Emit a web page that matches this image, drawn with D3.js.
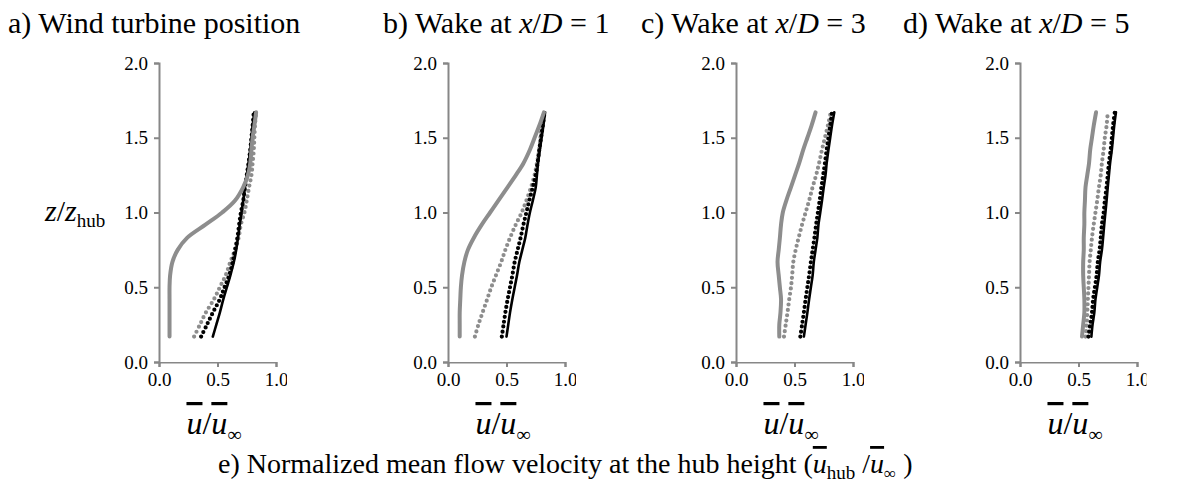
<!DOCTYPE html>
<html><head><meta charset="utf-8">
<script src="https://cdn.jsdelivr.net/npm/d3@7"></script>
<style>
html,body{margin:0;padding:0;background:#fff;}
svg text{font-family:"Liberation Serif","Times New Roman",serif;fill:#000;}
.ov{text-decoration:overline;text-decoration-thickness:1.5px;}
</style></head>
<body><svg id="c" width="1196" height="490"></svg>
<script>
// ---- data ----
const zLevels = [0.17,0.25,0.33,0.42,0.5,0.58,0.67,0.75,0.83,0.92,1.0,1.08,1.17,1.25,1.33,1.42,1.5,1.58,1.67];
const xTicks = [0, 0.5, 1.0];
const yTicks = [0, 0.5, 1.0, 1.5, 2.0];
const panelTitles = ["a) Wind turbine position", "b) Wake at |x|/|D| = 1", "c) Wake at |x|/|D| = 3", "d) Wake at |x|/|D| = 5"];
// gray solid
const grayA  = [0.09,0.09,0.09,0.09,0.09,0.095,0.115,0.16,0.24,0.40,0.54,0.65,0.72,0.76,0.78,0.79,0.80,0.815,0.83];
const grayB  = [0.10,0.10,0.10,0.105,0.11,0.12,0.14,0.17,0.22,0.29,0.36,0.43,0.51,0.58,0.645,0.70,0.74,0.78,0.82];
const grayC  = [0.37,0.37,0.38,0.385,0.375,0.365,0.355,0.365,0.375,0.385,0.40,0.43,0.47,0.505,0.54,0.575,0.61,0.645,0.68];
const grayD  = [0.53,0.54,0.55,0.55,0.545,0.54,0.54,0.545,0.545,0.55,0.55,0.555,0.56,0.575,0.59,0.60,0.615,0.63,0.65];
// gray dotted
const gdotA = [0.30,0.35,0.40,0.47,0.52,0.57,0.61,0.65,0.68,0.70,0.73,0.75,0.77,0.79,0.80,0.81,0.815,0.82,0.83];
const gdotB = [0.23,0.26,0.295,0.335,0.37,0.41,0.455,0.49,0.53,0.58,0.63,0.67,0.71,0.74,0.76,0.78,0.79,0.80,0.82];
const gdotC = [0.41,0.425,0.44,0.455,0.47,0.48,0.49,0.51,0.535,0.565,0.595,0.625,0.655,0.685,0.71,0.735,0.76,0.785,0.81];
const gdotD = [0.56,0.57,0.575,0.58,0.585,0.59,0.595,0.605,0.615,0.63,0.645,0.66,0.675,0.69,0.70,0.715,0.725,0.74,0.75];
// black dotted
const bdotA = [0.36,0.41,0.46,0.52,0.56,0.60,0.63,0.65,0.67,0.685,0.70,0.72,0.735,0.75,0.765,0.78,0.79,0.80,0.81];
const bdotB = [0.46,0.475,0.49,0.51,0.53,0.55,0.57,0.595,0.62,0.645,0.67,0.695,0.725,0.75,0.765,0.78,0.795,0.81,0.825];
const bdotC = [0.55,0.565,0.58,0.595,0.61,0.625,0.64,0.655,0.67,0.685,0.70,0.715,0.73,0.745,0.76,0.775,0.79,0.805,0.82];
const bdotD = [0.585,0.60,0.615,0.625,0.64,0.655,0.665,0.68,0.69,0.70,0.715,0.725,0.74,0.75,0.76,0.775,0.785,0.795,0.81];
// black solid
const blackA = [0.46,0.49,0.52,0.55,0.58,0.61,0.64,0.66,0.675,0.69,0.705,0.72,0.735,0.75,0.765,0.78,0.79,0.80,0.815];
const blackB = [0.50,0.515,0.53,0.55,0.57,0.59,0.61,0.635,0.66,0.68,0.70,0.725,0.75,0.76,0.77,0.785,0.80,0.815,0.83];
const blackC = [0.58,0.595,0.61,0.625,0.64,0.655,0.665,0.68,0.695,0.705,0.72,0.735,0.75,0.765,0.775,0.79,0.805,0.82,0.84];
const blackD = [0.61,0.62,0.635,0.645,0.66,0.675,0.685,0.70,0.71,0.72,0.73,0.74,0.75,0.76,0.77,0.785,0.795,0.805,0.82];

const panels = [
  {title: panelTitles[0], gray: grayA, gdot: gdotA, bdot: bdotA, black: blackA},
  {title: panelTitles[1], gray: grayB, gdot: gdotB, bdot: bdotB, black: blackB},
  {title: panelTitles[2], gray: grayC, gdot: gdotC, bdot: bdotC, black: blackC},
  {title: panelTitles[3], gray: grayD, gdot: gdotD, bdot: bdotD, black: blackD}
];

// ---- layout ----
const svg = d3.select("#c");
const originsX = [159, 448, 736, 1020];
const titleX = [8, 383, 641, 903];
const clipRight = [11, 11, 11, 9.5];
const plotW = 117;
const y = d3.scaleLinear().domain([0, 2]).range([362, 63]);
const axisColor = "#878787";
const gray = "#8d8d8d";
const fmt = d3.format(".1f");
const serif = '"Liberation Serif","Times New Roman",serif';
const defs = svg.append("defs");

function richText(sel, str) {
  str.split("|").forEach((s, i) => {
    if (!s) return;
    const t = sel.append("tspan").text(s);
    if (i % 2 === 1) t.attr("font-style", "italic");
  });
}
function uOverU(sel, size) {
  sel.append("tspan").attr("font-style","italic").attr("class","ov").text("u");
  sel.append("tspan").text("/");
  sel.append("tspan").attr("font-style","italic").attr("class","ov").text("u");
  sel.append("tspan").attr("font-size", size*0.62).attr("dy", size*0.22).text("∞");
}

panels.forEach((p, i) => {
  const x = d3.scaleLinear().domain([0, 1]).range([originsX[i], originsX[i] + plotW]);

  const tt = svg.append("text").attr("x", titleX[i]).attr("y", 33).attr("font-size", 30).attr("font-family", serif);
  richText(tt, p.title);

  defs.append("clipPath").attr("id", "clx" + i).append("rect")
    .attr("x", originsX[i] - 40).attr("y", 0).attr("width", plotW + 40 + clipRight[i]).attr("height", 490);

  const gx = svg.append("g").attr("transform", `translate(0,${y(0)})`).attr("clip-path", `url(#clx${i})`)
    .call(d3.axisBottom(x).tickValues(xTicks).tickFormat(fmt).tickSizeOuter(0).tickSize(5).tickPadding(6));
  const gy = svg.append("g").attr("transform", `translate(${originsX[i]},0)`)
    .call(d3.axisLeft(y).tickValues(yTicks).tickFormat(fmt).tickSizeOuter(0).tickSize(5).tickPadding(6));
  [gx, gy].forEach(g => {
    g.attr("font-family", serif);
    g.select(".domain").attr("stroke", axisColor).attr("stroke-width", 2);
    g.selectAll(".tick line").attr("stroke", axisColor).attr("stroke-width", 2);
    g.selectAll(".tick text").attr("font-size", 19).attr("font-family", serif).attr("fill", "#000");
  });

  const line = d3.line().x(d => x(d[0])).y(d => y(d[1])).curve(d3.curveCatmullRom.alpha(0.5));
  const pts = arr => arr.map((u, k) => [u, zLevels[k]]);

  svg.append("path").attr("d", line(pts(p.gdot))).attr("fill","none")
    .attr("stroke", gray).attr("stroke-width", 4.2).attr("stroke-linecap","round").attr("stroke-dasharray","0 5.4");
  svg.append("path").attr("d", line(pts(p.bdot))).attr("fill","none")
    .attr("stroke", "#000").attr("stroke-width", 4.2).attr("stroke-linecap","round").attr("stroke-dasharray","0 5");
  svg.append("path").attr("d", line(pts(p.black))).attr("fill","none")
    .attr("stroke", "#000").attr("stroke-width", 2.6).attr("stroke-linecap","round");
  svg.append("path").attr("d", line(pts(p.gray))).attr("fill","none")
    .attr("stroke", gray).attr("stroke-width", 4).attr("stroke-linecap","round");

  const xl = svg.append("text").attr("x", originsX[i] + plotW * 0.47).attr("y", 434)
    .attr("text-anchor","middle").attr("font-size", 32).attr("font-family", serif);
  uOverU(xl, 32);
});

// y label
const yl = svg.append("text").attr("x", 45).attr("y", 221).attr("font-size", 30).attr("font-family", serif);
yl.append("tspan").attr("font-style","italic").text("z");
yl.append("tspan").text("/");
yl.append("tspan").attr("font-style","italic").text("z");
yl.append("tspan").attr("font-size", 19).attr("dy", 6).text("hub");

// caption
const cap = svg.append("text").attr("x", 218).attr("y", 473).attr("font-size", 28).attr("font-family", serif);
cap.append("tspan").text("e) Normalized mean flow velocity at the hub height (");
cap.append("tspan").attr("font-style","italic").attr("class","ov").text("u");
cap.append("tspan").attr("font-size", 19).attr("dy", 6).text("hub");
cap.append("tspan").attr("dy", -6).text(" /");
cap.append("tspan").attr("font-style","italic").attr("class","ov").text("u");
cap.append("tspan").attr("font-size", 17).attr("dy", 6).text("∞");
cap.append("tspan").attr("dy", -6).text(" )");
</script></body></html>
